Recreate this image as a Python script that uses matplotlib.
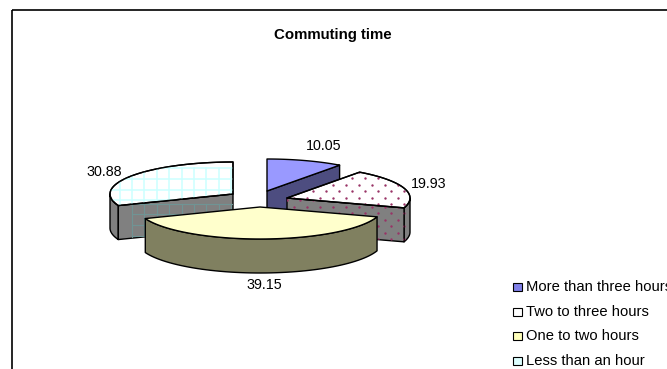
import numpy as np
import matplotlib
matplotlib.use('Agg')
import matplotlib.pyplot as plt
from matplotlib.patches import Polygon, Rectangle

categories = ['More than three hours', 'Two to three hours', 'One to two hours', 'Less than an hour']
values = [10.05, 19.93, 39.15, 30.88]
value_labels = ['10.05', '19.93', '39.15', '30.88']

top_colors = ['#9999FF', '#FFFFFF', '#FFFFCC', '#FFFFFF']
side_colors = ['#4D4D80', '#808080', '#808060', '#808080']
swatch_colors = ['#8080E8', '#FFFFFF', '#FFFFBB', '#DDFFFF']

RX, RY, DEPTH = 123, 32, 34
# apex of each exploded slice, in pixels
apexes = [(267, 191), (287, 198), (260, 207), (233, 194)]
label_pos = [(324, 146), (429, 184), (264, 285), (104, 172)]

plt.rcParams['font.family'] = ['Liberation Sans', 'DejaVu Sans']

fig = plt.figure(figsize=(6.67, 3.69), dpi=100)
ax = fig.add_axes([0, 0, 1, 1])
ax.set_xlim(0, 667)
ax.set_ylim(369, 0)
ax.axis('off')


def rim(apex, a0, a1, drop=0, n=60):
    # points on the elliptical edge, angles clockwise from 12 o'clock
    t = np.radians(np.linspace(a0, a1, n))
    return np.column_stack([apex[0] + RX * np.sin(t), apex[1] - RY * np.cos(t) + drop])


def add_grid(patch, x0, x1, y0, y1, color, lw=1.0):
    for x in np.arange(x0, x1, 12.4):
        ln, = ax.plot([x, x], [y0, y1], color=color, lw=lw, zorder=patch.get_zorder())
        ln.set_clip_path(patch)
    for y in np.arange(y0, y1, 10.7):
        ln, = ax.plot([x0, x1], [y, y], color=color, lw=lw, zorder=patch.get_zorder())
        ln.set_clip_path(patch)


def add_dots(patch, x0, x1, y0, y1, step, color):
    xs, ys = [], []
    for i, y in enumerate(np.arange(y0, y1, step)):
        for x in np.arange(x0 + (i % 2) * step, x1, step * 2):
            xs.append(x)
            ys.append(y)
    pts = ax.scatter(xs, ys, s=3.0, color=color, linewidths=0, zorder=patch.get_zorder())
    pts.set_clip_path(patch)


def add_poly(pts, color, z, lw=1.0):
    p = Polygon(pts, closed=True, facecolor=color, edgecolor='black', lw=lw, zorder=z, joinstyle='round')
    ax.add_patch(p)
    return p


bounds = np.cumsum([0] + values) / sum(values) * 360
draw_order = [3, 0, 1, 2]

for z, i in enumerate(draw_order):
    base = 10 + z * 10
    apex = apexes[i]
    a0, a1 = bounds[i], bounds[i + 1]
    top = np.vstack([[apex], rim(apex, a0, a1)])
    sides = []

    # cut face turned towards the viewer
    if i in (0, 1):
        edge = rim(apex, a1, a1, n=1)[0]
    elif i == 3:
        edge = rim(apex, a0, a0, n=1)[0]
    else:
        edge = None

    # outer wall, only the part below the widest point of the ellipse shows
    w0, w1 = max(a0, 90), min(a1, 270)
    if w1 > w0:
        upper = rim(apex, w0, w1)
        lower = rim(apex, w0, w1, drop=DEPTH)[::-1]
        sides.append(add_poly(np.vstack([upper, lower]), side_colors[i], base))
    if edge is not None:
        face = [apex, edge, (edge[0], edge[1] + DEPTH), (apex[0], apex[1] + DEPTH)]
        sides.append(add_poly(face, side_colors[i], base + 1))

    top_patch = add_poly(top, top_colors[i], base + 2)

    if i == 3:
        add_grid(top_patch, 107.2, 240, 168.3, 215, '#CCFFFF', lw=1.1)
        for s in sides:
            add_grid(s, 132, 240, 203.5, 245, '#6F9494', lw=0.8)
        add_poly(top, 'none', base + 3)
    if i == 1:
        add_dots(top_patch, 287, 415, 165, 215, 6.5, '#993366')
        for s in sides:
            add_dots(s, 287, 415, 200, 245, 6.5, '#993366')
        add_poly(top, 'none', base + 3)

for (x, y), lab in zip(label_pos, value_labels):
    ax.text(x, y, lab, fontsize=10.3, ha='center', va='center', color='black', zorder=100)

ax.text(333, 35, 'Commuting time', fontsize=10.8, fontweight='bold', ha='center', va='center', color='black')

# chart frame, runs past the bottom and right of the canvas
ax.add_patch(Rectangle((12, 10), 700, 400, fill=False, edgecolor='black', lw=1.2))

legend_y = [287, 312, 336, 361]
for y, name, col in zip(legend_y, categories, swatch_colors):
    ax.add_patch(Rectangle((513, y - 4), 8.5, 8, facecolor=col, edgecolor='black', lw=0.8))
    ax.text(526, y, name, fontsize=10.6, ha='left', va='center', color='black', clip_on=True)

fig.savefig('out.png', dpi=100)
